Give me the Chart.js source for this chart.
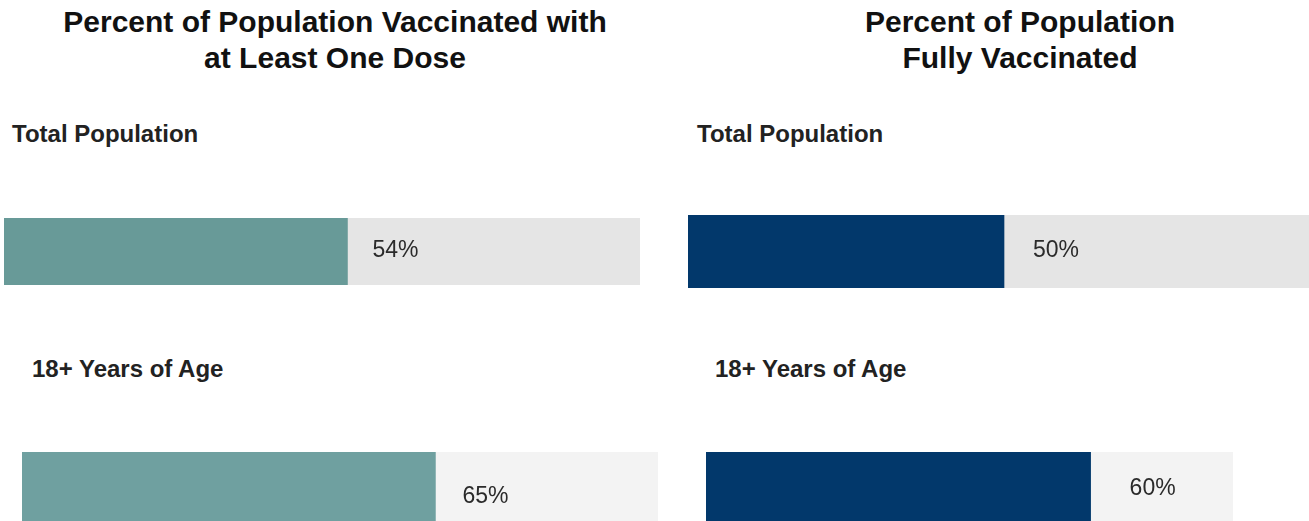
<!DOCTYPE html>
<html>
<head>
<meta charset="utf-8">
<script src="https://cdn.jsdelivr.net/npm/chart.js@4"></script>
<style>
  body { margin: 0; background: #fff; }
  #page { position: relative; width: 1309px; height: 521px; overflow: hidden; font-family: "Liberation Sans", Arial, sans-serif; color: #111; }
  .title { position: absolute; width: 640px; text-align: center; font-weight: bold; font-size: 30px; line-height: 36px; }
  .lbl { position: absolute; font-weight: bold; font-size: 24px; line-height: 24px; color: #222; white-space: nowrap; }
  .track { position: absolute; overflow: hidden; }
</style>
</head>
<body>
<div id="page"></div>
<script>
(function(){
  // data
  const categories = ['Total Population', '18+ Years of Age'];
  const oneDose = [54, 65];
  const fully = [50, 60];
  const titles = [
    ['Percent of Population Vaccinated with', 'at Least One Dose'],
    ['Percent of Population', 'Fully Vaccinated']
  ];

  const panels = [
    { values: oneDose, color: ['#689a98', '#6fa0a0'], titleX: 335 },
    { values: fully, color: ['#02386b', '#02386b'], titleX: 1020 }
  ];
  const grays = ['#e5e5e5', '#f3f3f3'];

  // where each bar sits in the picture: [panel][row]
  const boxes = [
    [ { x: 4, y: 218, h: 67, full: 636, clip: 636, lx: 12, ly: 122, dx: 25, dy: -1 },
      { x: 22, y: 452, h: 70, full: 636, clip: 636, lx: 32, ly: 357, dx: 27, dy: 10 } ],
    [ { x: 688, y: 215, h: 73, full: 632, clip: 632, lx: 697, ly: 122, dx: 29, dy: -1 },
      { x: 706, y: 452, h: 70, full: 641, clip: 527, lx: 715, ly: 357, dx: 39, dy: 2 } ]
  ];

  const page = document.getElementById('page');

  const valueLabel = {
    id: 'valueLabel',
    afterDatasetsDraw(chart, args, opts){
      const bar = chart.getDatasetMeta(0).data[0];
      const c = chart.ctx;
      c.save();
      c.font = '23px "Liberation Sans", Arial, sans-serif';
      c.fillStyle = '#2b2b2b';
      c.textAlign = 'left';
      c.textBaseline = 'middle';
      c.fillText(chart.data.datasets[0].data[0] + '%', bar.x + opts.dx, bar.y + opts.dy);
      c.restore();
    }
  };

  panels.forEach((p, pi) => {
    const t = document.createElement('div');
    t.className = 'title';
    t.style.left = (p.titleX - 320) + 'px';
    t.style.top = '4px';
    t.innerHTML = titles[pi].join('<br>');
    page.appendChild(t);

    categories.forEach((cat, ri) => {
      const b = boxes[pi][ri];

      const l = document.createElement('div');
      l.className = 'lbl';
      l.style.left = b.lx + 'px';
      l.style.top = b.ly + 'px';
      l.textContent = cat;
      page.appendChild(l);

      const wrap = document.createElement('div');
      wrap.className = 'track';
      wrap.style.left = b.x + 'px';
      wrap.style.top = b.y + 'px';
      wrap.style.width = b.clip + 'px';
      wrap.style.height = b.h + 'px';
      const cv = document.createElement('canvas');
      cv.width = b.full;
      cv.height = b.h;
      wrap.appendChild(cv);
      page.appendChild(wrap);

      const v = p.values[ri];
      new Chart(cv, {
        type: 'bar',
        data: {
          labels: [cat],
          datasets: [
            { data: [v], backgroundColor: p.color[ri] },
            { data: [100 - v], backgroundColor: grays[ri] }
          ]
        },
        options: {
          indexAxis: 'y',
          responsive: false,
          animation: false,
          events: [],
          layout: { padding: 0 },
          datasets: { bar: { barPercentage: 1, categoryPercentage: 1 } },
          scales: {
            x: { stacked: true, min: 0, max: 100, display: false },
            y: { stacked: true, display: false }
          },
          plugins: {
            legend: { display: false },
            tooltip: { enabled: false },
            valueLabel: { dx: b.dx, dy: b.dy }
          }
        },
        plugins: [valueLabel]
      });
    });
  });
})();
</script>
</body>
</html>
